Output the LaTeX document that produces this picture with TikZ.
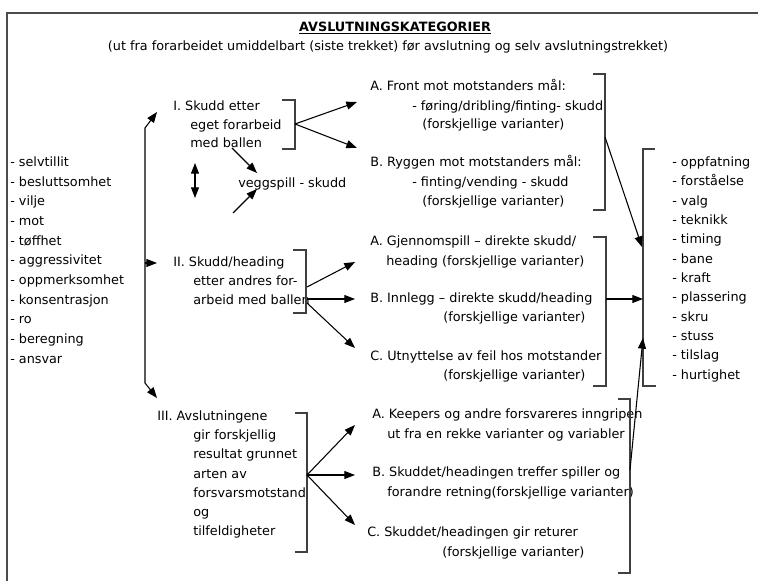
\documentclass[tikz,border=0pt]{standalone}
\usepackage{fontspec}
\setmainfont{DejaVu Sans}
\usetikzlibrary{arrows.meta}
\begin{document}
\begin{tikzpicture}[x=0.75pt,y=-0.75pt,
  txt/.style={anchor=west,inner sep=0pt,text height=7pt,text depth=2pt,font=\fontsize{9.6}{12}\selectfont},
  ctxt/.style={txt,anchor=center},
  arr/.style={line width=0.8pt,-{Triangle[length=8pt,width=6pt]}},
  darr/.style={line width=0.8pt,{Triangle[length=8pt,width=6pt]}-{Triangle[length=8pt,width=6pt]}},
  brk/.style={line width=0.8pt,draw=black!75},
  framel/.style={line width=1.1pt,draw=black!70}]
\useasboundingbox (0,0) rectangle (758,581);
% frame
\draw[framel] (7,581) -- (7,13) -- (758,13);
% title
\node[ctxt,font=\fontsize{9.6}{12}\selectfont\bfseries] (title) at (395,28) {\underline{AVSLUTNINGSKATEGORIER}};
\node[ctxt] (sub) at (388,47) {(ut fra forarbeidet umiddelbart (siste trekket) før avslutning og selv avslutningstrekket)};
% left list
\foreach \t [count=\i] in {selvtillit,besluttsomhet,vilje,mot,tøffhet,aggressivitet,oppmerksomhet,konsentrasjon,ro,beregning,ansvar}
  \node[txt] (L\i) at (10,{163+19.7*(\i-1)}) {- \t};
% right list
\foreach \t [count=\i] in {oppfatning,forståelse,valg,teknikk,timing,bane,kraft,plassering,skru,stuss,tilslag,hurtighet}
  \node[txt] (R\i) at (672,{163+19.36*(\i-1)}) {- \t};
% Section I
\node[txt] (I1) at (173,107) {I. Skudd etter};
\node[txt] (I2) at (190,126) {eget forarbeid};
\node[txt] (I3) at (190,144) {med ballen};
\node[txt] (vs) at (238,184) {veggspill - skudd};
% I-A, I-B
\node[txt] (IA1) at (370,87) {A. Front mot motstanders mål:};
\node[txt] (IA2) at (412,107) {- føring/dribling/finting- skudd};
\node[txt] (IA3) at (422,125) {(forskjellige varianter)};
\node[txt] (IB1) at (370,163) {B. Ryggen mot motstanders mål:};
\node[txt] (IB2) at (412,183) {- finting/vending - skudd};
\node[txt] (IB3) at (422,202) {(forskjellige varianter)};
% Section II
\node[txt] (II1) at (173,263) {II. Skudd/heading};
\node[txt] (II2) at (193,282) {etter andres for-};
\node[txt] (II3) at (193,301) {arbeid med ballen};
\node[txt] (IIA1) at (370,242) {A. Gjennomspill – direkte skudd/};
\node[txt] (IIA2) at (386,262) {heading (forskjellige varianter)};
\node[txt] (IIB1) at (370,299) {B. Innlegg – direkte skudd/heading};
\node[txt] (IIB2) at (443,318) {(forskjellige varianter)};
\node[txt] (IIC1) at (370,357) {C. Utnyttelse av feil hos motstander};
\node[txt] (IIC2) at (443,376) {(forskjellige varianter)};
% Section III
\node[txt] (III1) at (157,417) {III. Avslutningene};
\node[txt] (III2) at (193,436) {gir forskjellig};
\node[txt] (III3) at (193,455) {resultat grunnet};
\node[txt] (III4) at (193,475) {arten av};
\node[txt] (III5) at (193,494) {forsvarsmotstand};
\node[txt] (III6) at (193,513) {og};
\node[txt] (III7) at (193,532) {tilfeldigheter};
\node[txt] (IIIA1) at (372,415) {A. Keepers og andre forsvareres inngripen};
\node[txt] (IIIA2) at (387,435) {ut fra en rekke varianter og variabler};
\node[txt] (IIIB1) at (372,473) {B. Skuddet/headingen treffer spiller og};
\node[txt] (IIIB2) at (387,493) {forandre retning(forskjellige varianter)};
\node[txt] (IIIC1) at (367,533) {C. Skuddet/headingen gir returer};
\node[txt] (IIIC2) at (442,553) {(forskjellige varianter)};
% brackets
\draw[brk] (282,100) -- (295,100) -- (295,149) -- (282,149);
\draw[brk] (293,250) -- (306,250) -- (306,313) -- (293,313);
\draw[brk] (295,413) -- (307,413) -- (307,552) -- (295,552);
\draw[brk] (593,74) -- (605,74) -- (605,210) -- (593,210);
\draw[brk] (593,237) -- (606,237) -- (606,386) -- (593,386);
\draw[brk] (618,399) -- (630,399) -- (630,573) -- (618,573);
\draw[brk] (655,149) -- (643,149) -- (643,386) -- (656,386);
% coordinates
\coordinate (lm) at (145,263);
\coordinate (lt) at (145,128);
\coordinate (lb) at (145,383);
\coordinate (tI) at (157,112);
\coordinate (tII) at (157,263);
\coordinate (tIII) at (157,398);
\coordinate (bI) at (295,124);
\coordinate (tIA) at (357,102);
\coordinate (tIB) at (357,148);
\coordinate (bIIa) at (307,287);
\coordinate (bIIb) at (307,299);
\coordinate (bIIc) at (307,303);
\coordinate (tIIA) at (355,262);
\coordinate (tIIB) at (355,299);
\coordinate (tIIC) at (355,348);
\coordinate (bIII) at (307,475);
\coordinate (tIIIA) at (355,425);
\coordinate (tIIIB) at (355,475);
\coordinate (tIIIC) at (355,525);
\coordinate (bAB) at (605,137);
\coordinate (bII) at (606,299);
\coordinate (bIIIr) at (630,470);
\coordinate (rIn1) at (642,247);
\coordinate (rIn2) at (643,299);
\coordinate (rIn3) at (643,338);
\coordinate (v1s) at (232,148);
\coordinate (v1e) at (257,173);
\coordinate (v2s) at (233,213);
\coordinate (v2e) at (257,189);
\coordinate (d1) at (195,163);
\coordinate (d2) at (195,198);
% arrows
\draw[arr] (lm) -- (lt) -- (tI);
\draw[arr] (lm) -- (tII);
\draw[arr] (lm) -- (lb) -- (tIII);
\draw[darr] (d1) -- (d2);
\draw[arr] (v1s) -- (v1e);
\draw[arr] (v2s) -- (v2e);
\draw[arr] (bI) -- (tIA);
\draw[arr] (bI) -- (tIB);
\draw[arr] (bIIa) -- (tIIA);
\draw[arr] (bIIb) -- (tIIB);
\draw[arr] (bIIc) -- (tIIC);
\draw[arr] (bIII) -- (tIIIA);
\draw[arr] (bIII) -- (tIIIB);
\draw[arr] (bIII) -- (tIIIC);
\draw[arr] (bAB) -- (rIn1);
\draw[arr] (bII) -- (rIn2);
\draw[arr] (bIIIr) -- (rIn3);
\end{tikzpicture}
\end{document}
